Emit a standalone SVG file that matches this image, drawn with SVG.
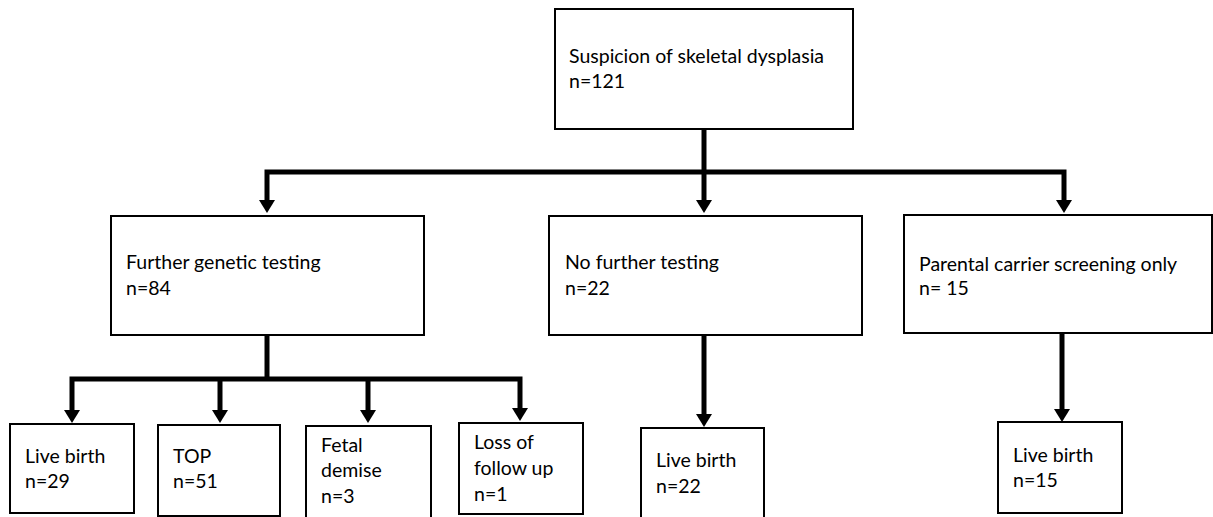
<svg xmlns="http://www.w3.org/2000/svg" width="1213" height="517" viewBox="0 0 1213 517">
<style>
.box{fill:#fff;stroke:#000;stroke-width:2}
.t{font-family:Lato,"Open Sans","Liberation Sans",sans-serif;font-size:19.5px;fill:#000}
.c{fill:none;stroke:#000;stroke-width:5}
</style>
<defs>
<marker id="ah" viewBox="0 0 13 16" refX="0" refY="8" markerUnits="userSpaceOnUse" markerWidth="13" markerHeight="16" orient="auto-start-reverse">
<path d="M0,0 L13,8 L0,16 z" fill="#000"/>
</marker>
</defs>
<rect width="1213" height="517" fill="#fff"/>
<g id="connectors">
<path class="c" d="M704,130 V200" marker-end="url(#ah)"/>
<path class="c" d="M267,200 V172 H1064 V200" marker-start="url(#ah)" marker-end="url(#ah)"/>
<path class="c" d="M267,336 V379"/>
<path class="c" d="M72,410 V379 H520 V408" marker-start="url(#ah)" marker-end="url(#ah)"/>
<path class="c" d="M220,379 V410" marker-end="url(#ah)"/>
<path class="c" d="M368,379 V410" marker-end="url(#ah)"/>
<path class="c" d="M704,336 V414" marker-end="url(#ah)"/>
<path class="c" d="M1062,334 V409" marker-end="url(#ah)"/>
</g>
<g id="n-root"><rect class="box" x="555" y="9" width="298" height="120"/>
<text class="t" x="569" y="63">Suspicion of skeletal dysplasia</text><text class="t" x="569" y="88">n=121</text></g>
<g id="n-further"><rect class="box" x="111" y="216" width="313" height="119"/>
<text class="t" x="126" y="269">Further genetic testing</text><text class="t" x="126" y="295">n=84</text></g>
<g id="n-nofurther"><rect class="box" x="549" y="216" width="313" height="119"/>
<text class="t" x="565" y="269">No further testing</text><text class="t" x="565" y="295">n=22</text></g>
<g id="n-parental"><rect class="box" x="904" y="215" width="308" height="118"/>
<text class="t" x="919" y="271">Parental carrier screening only</text><text class="t" x="919" y="295">n= 15</text></g>
<g id="n-live29"><rect class="box" x="10" y="424" width="124" height="89"/>
<text class="t" x="25" y="463">Live birth</text><text class="t" x="25" y="488">n=29</text></g>
<g id="n-top"><rect class="box" x="158" y="425" width="122" height="91"/>
<text class="t" x="173" y="463">TOP</text><text class="t" x="173" y="488">n=51</text></g>
<g id="n-fetal"><rect class="box" x="306" y="426" width="125" height="95"/>
<text class="t" x="321" y="452">Fetal</text><text class="t" x="321" y="477">demise</text><text class="t" x="321" y="503">n=3</text></g>
<g id="n-loss"><rect class="box" x="459" y="423" width="124" height="91"/>
<text class="t" x="474" y="449">Loss of</text><text class="t" x="474" y="475">follow up</text><text class="t" x="474" y="501">n=1</text></g>
<g id="n-live22"><rect class="box" x="641" y="428" width="123" height="95"/>
<text class="t" x="656" y="467">Live birth</text><text class="t" x="656" y="493">n=22</text></g>
<g id="n-live15"><rect class="box" x="998" y="422" width="124" height="91"/>
<text class="t" x="1013" y="462">Live birth</text><text class="t" x="1013" y="487">n=15</text></g>
</svg>
